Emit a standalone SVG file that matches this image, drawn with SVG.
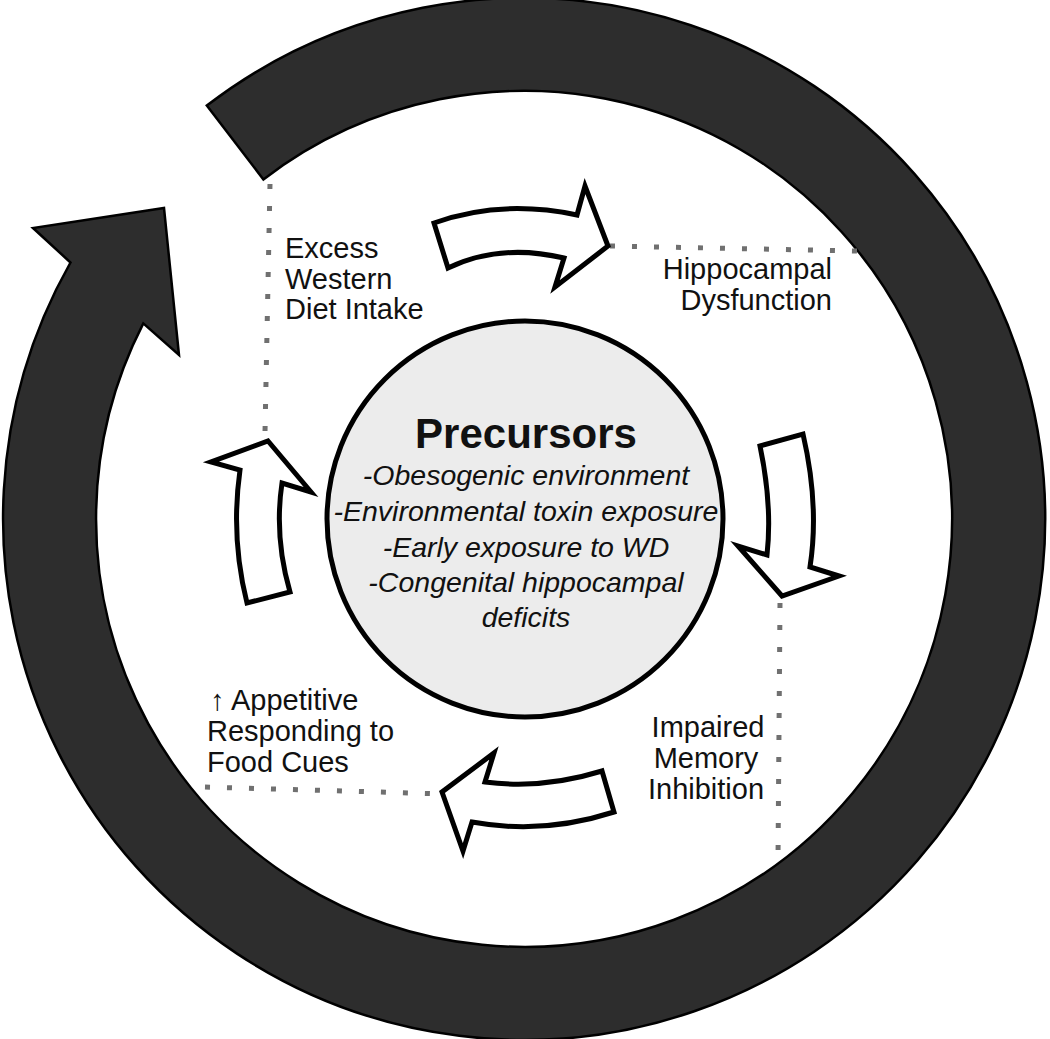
<svg xmlns="http://www.w3.org/2000/svg" width="1050" height="1039" viewBox="0 0 1050 1039">
<style>
.lbl{font-family:"Liberation Sans",Arial,Helvetica,sans-serif;font-size:29px;fill:#111}
.it{font-family:"Liberation Sans",Arial,Helvetica,sans-serif;font-size:28.5px;font-style:italic;fill:#111;text-anchor:middle}
.dot{fill:none;stroke:#707070;stroke-width:5;stroke-dasharray:5 17}
.warrow{fill:#fff;stroke:#000;stroke-width:5;stroke-linejoin:miter}
</style>
<rect width="1050" height="1039" fill="#fff"/>
<g id="cycle-arrow">
<path d="M 206.8 105.6 A 521 521 0 1 1 70.5 262.5 L 33 228 L 164 208 L 179 355 L 143.3 323.4 A 428 428 0 1 0 263.4 179.4 Z" fill="#2d2d2d" stroke="#000" stroke-width="2.5" stroke-linejoin="miter"/>
</g>
<g id="connectors">
<path class="dot" d="M 270 184 L 265 432"/>
<path class="dot" d="M 610 246 L 858 251"/>
<path class="dot" d="M 780 603 L 778 860"/>
<path class="dot" d="M 205 787 L 446 794"/>
<path id="arrow-top" class="warrow" d="M 434 223 Q 500.5 199 577 215 L 585 186 L 608 246 L 555 287 L 564 258 Q 500 243 448 268 Z"/>
<path id="arrow-right" class="warrow" d="M 760 446 L 803 434 Q 819.5 505.5 810 567 L 839 576 L 782 596 L 738 546 L 767 555 Q 772.5 505.5 760 446 Z"/>
<path id="arrow-bottom" class="warrow" d="M 602 771 Q 542.5 789.5 485 782 L 494 753 L 442 792 L 463 851 L 472 822 Q 543 835 614 812 Z"/>
<path id="arrow-left" class="warrow" d="M 268 441 L 311 492 L 282 483 Q 274 536.5 290 592 L 247 603 Q 230.5 537.5 240 470 L 211 462 Z"/>
</g>
<g id="precursors">
<circle cx="525" cy="519" r="198" fill="#ececec" stroke="#000" stroke-width="5"/>
<text x="526" y="448" font-family="Liberation Sans,Arial,Helvetica,sans-serif" font-size="42" font-weight="bold" text-anchor="middle" fill="#111">Precursors</text>
<text class="it" x="526" y="485">-Obesogenic environment</text>
<text class="it" x="526" y="521">-Environmental toxin exposure</text>
<text class="it" x="526" y="557">-Early exposure to WD</text>
<text class="it" x="526" y="592">-Congenital hippocampal</text>
<text class="it" x="526" y="627">deficits</text>
</g>
<g id="excess-western-diet">
<text class="lbl" x="285" y="258">Excess</text>
<text class="lbl" x="285" y="288.5">Western</text>
<text class="lbl" x="285" y="319">Diet Intake</text>
</g>
<g id="hippocampal-dysfunction">
<text class="lbl" x="832" y="279" text-anchor="end">Hippocampal</text>
<text class="lbl" x="832" y="310" text-anchor="end">Dysfunction</text>
</g>
<g id="impaired-memory-inhibition">
<text class="lbl" x="708" y="737" text-anchor="middle">Impaired</text>
<text class="lbl" x="706" y="768" text-anchor="middle">Memory</text>
<text class="lbl" x="706" y="799" text-anchor="middle">Inhibition</text>
</g>
<g id="appetitive-responding">
<text class="lbl" x="210" y="710">↑ Appetitive</text>
<text class="lbl" x="207" y="741">Responding to</text>
<text class="lbl" x="207" y="772">Food Cues</text>
</g>
</svg>
